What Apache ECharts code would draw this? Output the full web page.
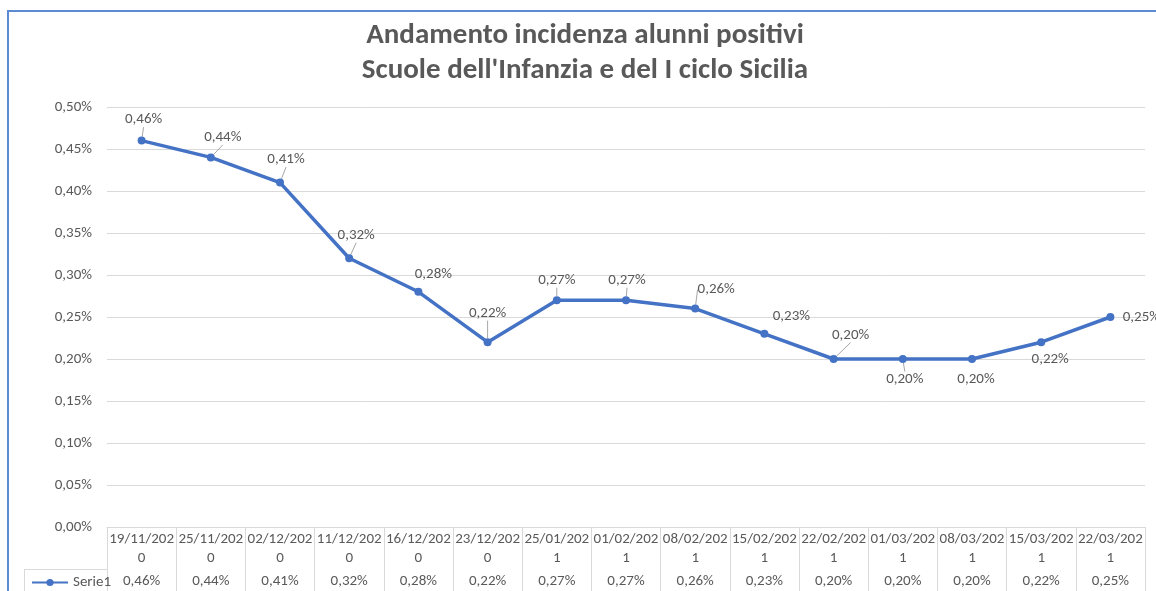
<!DOCTYPE html>
<html>
<head>
<meta charset="utf-8">
<script src="https://cdn.jsdelivr.net/npm/echarts@6/dist/echarts.min.js"></script>
<style>
  html, body { margin: 0; padding: 0; background: #fff; }
  #chart { width: 1156px; height: 591px; }
</style>
</head>
<body>
<div id="chart"></div>
<script>
// date labels as they wrap in the data table
const dates = ['19/11/2020','25/11/2020','02/12/2020','11/12/2020','16/12/2020','23/12/2020','25/01/2021',
  '01/02/2021','08/02/2021','15/02/2021','22/02/2021','01/03/2021','08/03/2021','15/03/2021','22/03/2021'];
const serie1 = [0.46,0.44,0.41,0.32,0.28,0.22,0.27,0.27,0.26,0.23,0.20,0.20,0.20,0.22,0.25];
const yTicks = [0,0.05,0.10,0.15,0.20,0.25,0.30,0.35,0.40,0.45,0.50];

// label placement (moved labels, like the excel original)
const labelOff = [[2,-21],[12,-20],[6,-23],[7,-23],[15,-18],[0,-29],[0,-20],[1,-20],[21,-19],[27,-18],[17,-24],[2,20],[4,20],[9,17],[31,0]];
const leader = [true,true,true,true,false,true,true,true,true,false,true,true,false,false,false];

const pct = v => v.toFixed(2).replace('.', ',') + '%';
const grey = '#595959';
const lineCol = '#d9d9d9';
const blue = '#4472c4';
const font = "Carlito, 'Liberation Sans Narrow', 'Liberation Sans', sans-serif";

const chart = echarts.init(document.getElementById('chart'), null, { renderer: 'canvas' });
chart.setOption({
  backgroundColor: '#fff',
  animation: false,
  title: {
    text: 'Andamento incidenza alunni positivi\nScuole dell\'Infanzia e del I ciclo Sicilia',
    left: 580, top: 13, textAlign: 'center',
    textStyle: { color: grey, fontFamily: font, fontSize: 29, fontWeight: 'bold', lineHeight: 35 }
  },
  legend: {
    left: 26, top: 570, itemWidth: 36, itemHeight: 9, itemGap: 2,
    textStyle: { color: grey, fontFamily: font, fontSize: 15 },
    data: ['Serie1']
  },
  grid: [
    { left: 107, right: 11, top: 107, bottom: 64 },
    { left: 107, right: 11, top: 569, height: 22 }
  ],
  xAxis: [
    {
      type: 'category', data: dates, gridIndex: 0, boundaryGap: true,
      axisLine: { lineStyle: { color: lineCol } },
      axisTick: { show: true, interval: 0, length: 64, lineStyle: { color: lineCol } },
      axisLabel: {
        interval: 0, margin: 3, color: grey, fontFamily: font, fontSize: 15, lineHeight: 19,
        formatter: v => v.slice(0, 9) + '\n' + v.slice(9)
      }
    },
    {
      type: 'category', data: dates, gridIndex: 1, position: 'top', boundaryGap: true,
      axisLine: { lineStyle: { color: lineCol } },
      axisTick: { show: false },
      axisLabel: {
        inside: true, interval: 0, margin: 5, color: grey, fontFamily: font, fontSize: 15,
        formatter: (v, i) => pct(serie1[i])
      }
    }
  ],
  yAxis: [
    {
      type: 'value', gridIndex: 0, min: 0, max: 0.5, interval: 0.05,
      axisLine: { show: false }, axisTick: { show: false },
      splitLine: { lineStyle: { color: lineCol } },
      axisLabel: { margin: 15, color: grey, fontFamily: font, fontSize: 15, formatter: v => pct(v) }
    },
    { type: 'value', gridIndex: 1, show: false }
  ],
  series: [{
    name: 'Serie1', type: 'line', xAxisIndex: 0, yAxisIndex: 0,
    data: serie1.map((v, i) => ({ value: v, labelLine: { show: leader[i] } })),
    symbol: 'circle', symbolSize: 8,
    lineStyle: { color: blue, width: 3.5 },
    itemStyle: { color: blue },
    label: {
      show: true, position: 'inside', color: grey, fontFamily: font, fontSize: 15,
      formatter: p => pct(p.value)
    },
    labelLine: { lineStyle: { color: '#a6a6a6', width: 1 } },
    labelLayout: p => {
      const o = labelOff[p.dataIndex];
      const cx = p.rect.x + p.rect.width / 2, cy = p.rect.y + p.rect.height / 2;
      return { x: cx + o[0], y: cy + o[1], align: 'center', verticalAlign: 'middle' };
    }
  }],
  graphic: [
    { type: 'rect', shape: { x: 8, y: 11, width: 1300, height: 800 }, style: { fill: 'none', stroke: '#5b8bd3', lineWidth: 2 } },
    { type: 'line', shape: { x1: 24, y1: 569.5, x2: 107, y2: 569.5 }, style: { stroke: lineCol, lineWidth: 1 } },
    { type: 'line', shape: { x1: 24.5, y1: 569, x2: 24.5, y2: 591 }, style: { stroke: lineCol, lineWidth: 1 } }
  ]
});
</script>
</body>
</html>
